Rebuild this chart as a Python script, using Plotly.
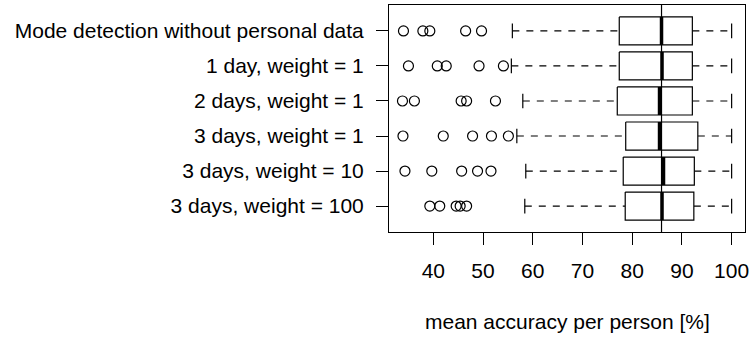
import plotly.graph_objects as go

# Groups, listed top to bottom
categories = [
    "Mode detection without personal data",
    "1 day, weight = 1",
    "2 days, weight = 1",
    "3 days, weight = 1",
    "3 days, weight = 10",
    "3 days, weight = 100",
]
# Five-number summaries (mean accuracy per person, %)
lower_whisker = [55.9, 55.7, 58.0, 56.8, 58.6, 58.4]
q1 = [77.4, 77.4, 77.0, 78.7, 78.2, 78.6]
median = [85.9, 86.0, 85.5, 85.5, 86.3, 86.0]
q3 = [92.1, 92.1, 92.1, 93.2, 92.5, 92.4]
upper_whisker = [100.0, 100.0, 100.0, 100.0, 100.0, 100.0]
outliers = [
    [34.0, 37.9, 39.3, 46.5, 49.7],
    [35.0, 40.8, 42.6, 49.2, 54.1],
    [33.8, 36.2, 45.6, 46.7, 52.5],
    [33.9, 42.0, 47.9, 51.7, 55.1],
    [34.3, 39.7, 45.7, 48.9, 51.6],
    [39.3, 41.3, 44.6, 45.4, 46.7],
]
reference_value = 85.9
x_ticks = [40, 50, 60, 70, 80, 90, 100]

FONT = "Liberation Sans, Arial, sans-serif"
FONT_SIZE = 21
HALF_BOX = 0.4
HALF_STAPLE = 0.21

box_x, box_y = [], []
med_x, med_y = [], []
wh_x, wh_y = [], []
cap_x, cap_y = [], []
out_x, out_y = [], []
for i, name in enumerate(categories):
    y = i + 1
    box_x += [q1[i], q3[i], q3[i], q1[i], q1[i], None]
    box_y += [y - HALF_BOX, y - HALF_BOX, y + HALF_BOX, y + HALF_BOX, y - HALF_BOX, None]
    med_x += [median[i], median[i], None]
    med_y += [y - HALF_BOX, y + HALF_BOX, None]
    wh_x += [lower_whisker[i], q1[i], None, q3[i], upper_whisker[i], None]
    wh_y += [y, y, None, y, y, None]
    for w in (lower_whisker[i], upper_whisker[i]):
        cap_x += [w, w, None]
        cap_y += [y - HALF_STAPLE, y + HALF_STAPLE, None]
    out_x += outliers[i]
    out_y += [y] * len(outliers[i])

fig = go.Figure()
line_style = dict(color="black", width=1.2)
fig.add_trace(go.Scatter(x=wh_x, y=wh_y, mode="lines",
                         line=dict(color="black", width=1.2, dash="7px,7px")))
fig.add_trace(go.Scatter(x=cap_x, y=cap_y, mode="lines", line=line_style))
fig.add_trace(go.Scatter(x=box_x, y=box_y, mode="lines", line=line_style,
                         fill="toself", fillcolor="white"))
fig.add_trace(go.Scatter(x=med_x, y=med_y, mode="lines",
                         line=dict(color="black", width=3.5)))
fig.add_trace(go.Scatter(x=out_x, y=out_y, mode="markers",
                         marker=dict(symbol="circle-open", size=10, color="black",
                                     line=dict(width=1.2))))
fig.add_vline(x=reference_value, line=dict(color="black", width=1.2))

fig.update_layout(
    width=753, height=337,
    margin=dict(l=389, r=8, t=5, b=105),
    paper_bgcolor="white", plot_bgcolor="white",
    showlegend=False,
    font=dict(family=FONT, size=FONT_SIZE, color="black"),
    xaxis=dict(
        range=[31.09, 102.69], tickvals=x_ticks,
        ticks="outside", ticklen=12, tickwidth=1, tickcolor="black",
        showgrid=False, zeroline=False,
        showline=True, linecolor="black", linewidth=1, mirror=True,
        ticklabelstandoff=8,
    ),
    yaxis=dict(
        range=[6.74, 0.26], tickvals=list(range(1, len(categories) + 1)),
        ticktext=categories,
        ticks="outside", ticklen=12, tickwidth=1, tickcolor="black",
        showgrid=False, zeroline=False,
        showline=True, linecolor="black", linewidth=1, mirror=True,
        ticklabelstandoff=8,
    ),
    annotations=[dict(
        text="mean accuracy per person [%]", xref="paper", yref="paper",
        x=0.5, y=-0.395, xanchor="center", yanchor="middle",
        showarrow=False, font=dict(family=FONT, size=FONT_SIZE, color="black"),
    )],
)

fig.write_html("out.html")
